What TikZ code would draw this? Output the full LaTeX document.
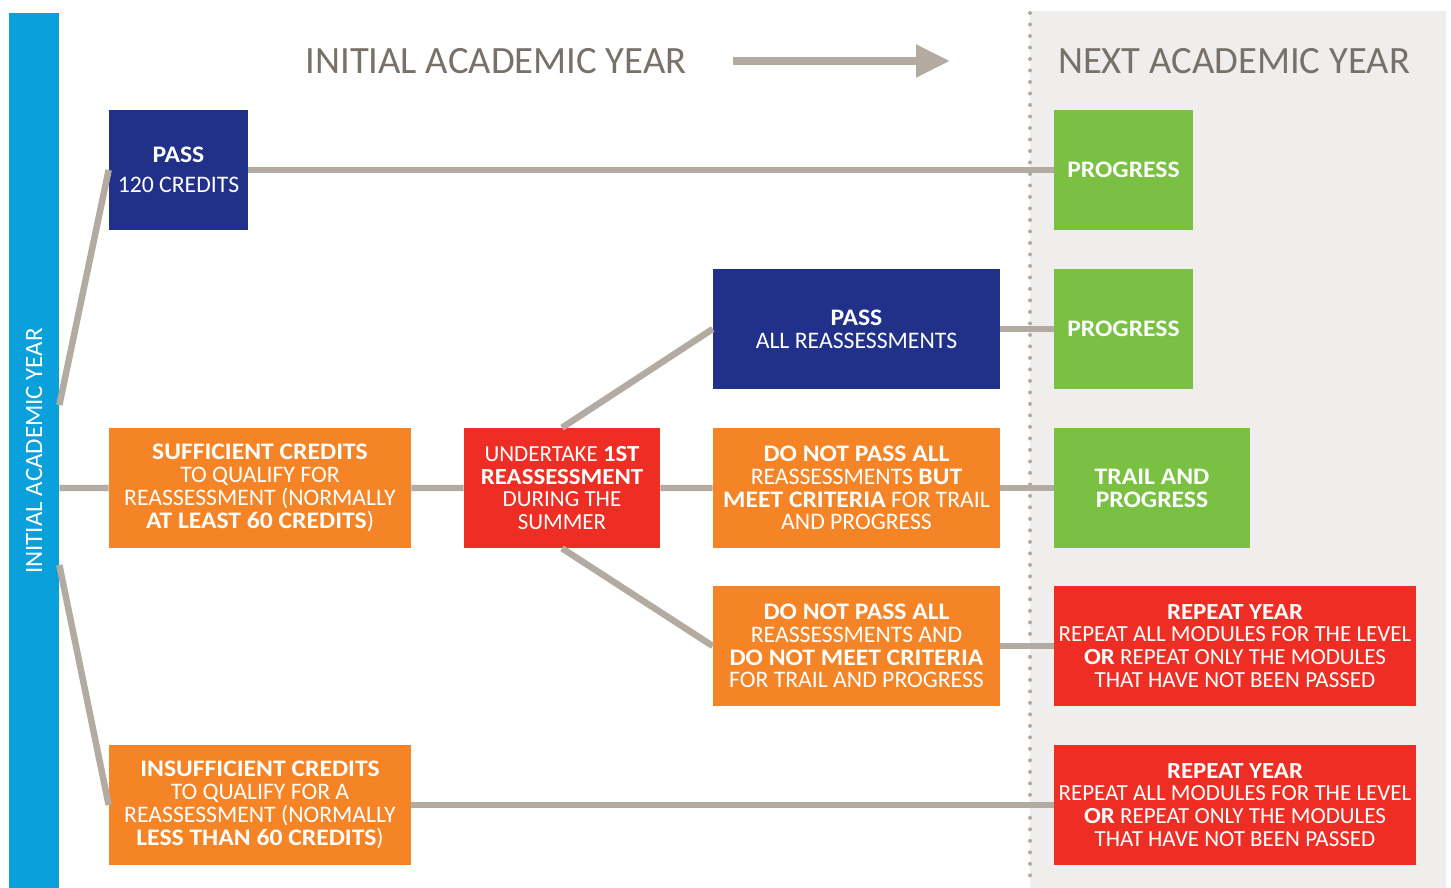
\documentclass[tikz,border=0pt]{standalone}
\usepackage{fontspec}
\setmainfont{Carlito}[BoldFeatures={FakeStretch=1.08}]
\usetikzlibrary{arrows.meta}
\definecolor{navy}{HTML}{21318A}
\definecolor{leafgreen}{HTML}{7AC143}
\definecolor{boxorange}{HTML}{F58426}
\definecolor{boxred}{HTML}{EE2E24}
\definecolor{barblue}{HTML}{09A0DB}
\definecolor{pagegrey}{HTML}{EFEEEC}
\definecolor{linegrey}{HTML}{B3ABA1}
\definecolor{headgrey}{HTML}{77716A}
\tikzstyle{box} = [rectangle, text=white, align=center, inner sep=0pt, minimum height=2.4cm, font=\fontsize{13.5}{13}\selectfont]
\tikzstyle{box_navy} = [box, fill=navy]
\tikzstyle{box_green} = [box, fill=leafgreen]
\tikzstyle{box_orange} = [box, fill=boxorange]
\tikzstyle{box_red} = [box, fill=boxred, font=\fontsize{13.1}{13}\selectfont]
\tikzstyle{heading} = [text=headgrey, font=\fontsize{22}{26}\selectfont]
\tikzstyle{edge_normal} = [draw=linegrey, line width=0.13cm]

\begin{document}
\begin{tikzpicture}[x=0.02cm, y=-0.02cm]
			\useasboundingbox (0,0) rectangle (1451,888);
			\fill[pagegrey] (1030,11) rectangle (1446,888);
			\draw[linegrey, line width=0.08cm, line cap=round, dash pattern=on 0pt off 0.23cm] (1030,13) -- (1030,886);
			\node (BAR) at (34,451) [rotate=90, fill=barblue, text=white, minimum width=17.54cm, minimum height=1cm, inner sep=0pt, font=\fontsize{14.2}{16}\selectfont] {INITIAL ACADEMIC YEAR};
			\node (T1) at (496,61) [heading] {INITIAL ACADEMIC YEAR};
			\node (T2) at (1234,61) [heading] {NEXT ACADEMIC YEAR};
			\coordinate (AS) at (733,61);
			\coordinate (AE) at (950,61);
			\draw[linegrey, line width=0.16cm, -{Triangle[length=0.68cm, width=0.62cm]}] (AS)--(AE);
			% first year
			\node (PASS) at (178.5,170) [box_navy, minimum width=2.78cm] {\textbf{PASS}\\[4pt]120 CREDITS};
			\node (SUFF) at (260,488) [box_orange, minimum width=6.04cm] {\textbf{SUFFICIENT CREDITS}\\TO QUALIFY FOR\\REASSESSMENT (NORMALLY\\\textbf{AT LEAST 60 CREDITS})};
			\node (INSUF) at (260,805) [box_orange, minimum width=6.04cm] {\textbf{INSUFFICIENT CREDITS}\\TO QUALIFY FOR A\\REASSESSMENT (NORMALLY\\\textbf{LESS THAN 60 CREDITS})};
			\node (UNDER) at (562,488) [box_red, minimum width=3.92cm] {UNDERTAKE \textbf{1ST}\\\textbf{REASSESSMENT}\\DURING THE\\SUMMER};
			\node (PALL) at (856.5,329) [box_navy, minimum width=5.74cm] {\textbf{PASS}\\ALL REASSESSMENTS};
			\node (DNP1) at (856.5,488) [box_orange, minimum width=5.74cm] {\textbf{DO NOT PASS ALL}\\REASSESSMENTS \textbf{BUT}\\\textbf{MEET CRITERIA} FOR TRAIL\\AND PROGRESS};
			\node (DNP2) at (856.5,646) [box_orange, minimum width=5.74cm] {\textbf{DO NOT PASS ALL}\\REASSESSMENTS AND\\\textbf{DO NOT MEET CRITERIA}\\FOR TRAIL AND PROGRESS};
			% next year
			\node (PROG1) at (1123.5,170) [box_green, minimum width=2.78cm] {\textbf{PROGRESS}};
			\node (PROG2) at (1123.5,329) [box_green, minimum width=2.78cm] {\textbf{PROGRESS}};
			\node (TRAIL) at (1152,488) [box_green, minimum width=3.92cm] {\textbf{TRAIL AND}\\\textbf{PROGRESS}};
			\node (REP1) at (1235,646) [box_red, minimum width=7.24cm] {\textbf{REPEAT YEAR}\\REPEAT ALL MODULES FOR THE LEVEL\\\textbf{OR} REPEAT ONLY THE MODULES\\THAT HAVE NOT BEEN PASSED};
			\node (REP2) at (1235,805) [box_red, minimum width=7.24cm] {\textbf{REPEAT YEAR}\\REPEAT ALL MODULES FOR THE LEVEL\\\textbf{OR} REPEAT ONLY THE MODULES\\THAT HAVE NOT BEEN PASSED};
			\draw[edge_normal] (BAR.south |- 0,405)--(PASS.west) (BAR.south |- SUFF)--(SUFF.west) (BAR.south |- 0,565)--(INSUF.west);
			\draw[edge_normal] (SUFF)--(UNDER) (UNDER)--(DNP1) (UNDER.north)--(PALL.west) (UNDER.south)--(DNP2.west);
			\draw[edge_normal] (PASS)--(PROG1) (PALL)--(PROG2) (DNP1)--(TRAIL) (DNP2)--(REP1) (INSUF)--(REP2);
		\end{tikzpicture}
\end{document}
